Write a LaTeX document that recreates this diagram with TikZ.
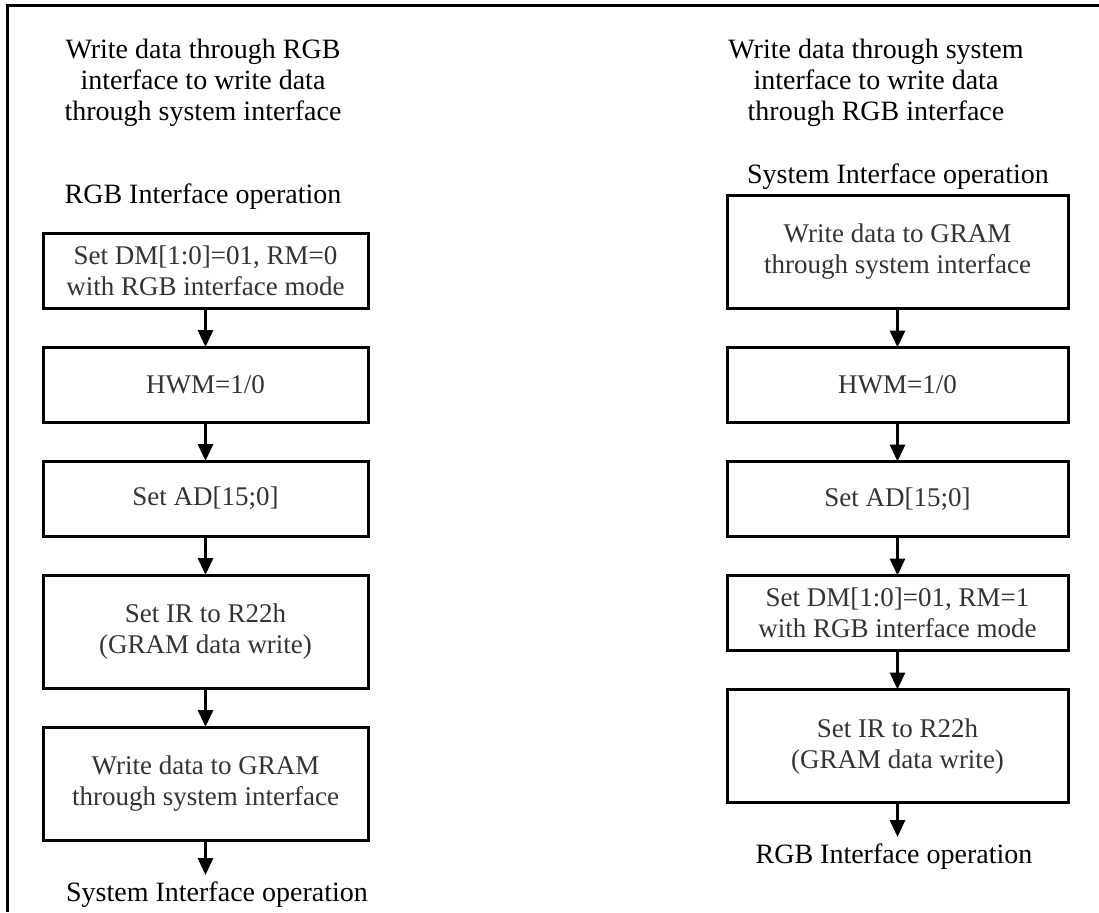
\documentclass[tikz,border=0pt]{standalone}
\usepackage{fontspec}
\setmainfont{Liberation Serif}
\usetikzlibrary{positioning,arrows.meta}
\tikzset{
  boxnode/.style = {draw=black, line width=1.5pt, align=center, inner sep=0pt,
    outer sep=0pt, text=black!80, font=\fontsize{13.5}{15.5}\selectfont},
  box_l/.style = {boxnode, minimum width=162.5pt},% left column
  box_r/.style = {boxnode, minimum width=170.5pt},% right column
  h_s/.style = {minimum height=37.5pt},
  h_t/.style = {minimum height=56.5pt},
  head/.style = {align=center, inner sep=0pt, text=black,
    font=\fontsize{14}{15.5}\selectfont},
}

\begin{document}
\begin{tikzpicture}[x=0.5pt,y=-0.5pt,->,>={Triangle[width=7.5pt,length=8.5pt]},
  line width=1.5pt]
\useasboundingbox (0,0) rectangle (1099,912);
\draw[-] (1099,5) -- (7,5) -- (7,912);

% left column
\node [head] (l_title) at (203,83) {Write data through RGB\\interface to write data\\through system interface};
\node [head] (l_in) at (203,197) {RGB Interface operation};
\node [box_l,h_s] (l_1) at (205.5,270.5) {Set DM[1:0]=01, RM=0\\with RGB interface mode};
\node [box_l,h_s] (l_2) [below=19.5pt of l_1] {HWM=1/0};
\node [box_l,h_s] (l_3) [below=19.5pt of l_2] {Set AD[15;0]};
\node [box_l,h_t] (l_4) [below=19.5pt of l_3] {Set IR to R22h\\(GRAM data write)};
\node [box_l,h_t] (l_5) [below=19.5pt of l_4] {Write data to GRAM\\through system interface};
\coordinate (l_end) at (205.5,875);
\node [head] (l_out) at (217,895) {System Interface operation};

% right column
\node [head] (r_title) at (876,83) {Write data through system\\interface to write data\\through RGB interface};
\node [head] (r_in) at (898,177) {System Interface operation};
\node [box_r,h_t] (r_1) at (897.5,252) {Write data to GRAM\\through system interface};
\node [box_r,h_s] (r_2) [below=19.5pt of r_1] {HWM=1/0};
\node [box_r,h_s] (r_3) [below=19.5pt of r_2] {Set AD[15;0]};
\node [box_r,h_s] (r_4) [below=19.5pt of r_3] {Set DM[1:0]=01, RM=1\\with RGB interface mode};
\node [box_r,h_t] (r_5) [below=19.5pt of r_4] {Set IR to R22h\\(GRAM data write)};
\coordinate (r_end) at (897.5,837);
\node [head] (r_out) at (894,857) {RGB Interface operation};

\foreach \a/\b in {l_1/l_2,l_2/l_3,l_3/l_4,l_4/l_5,l_5/l_end,
                   r_1/r_2,r_2/r_3,r_3/r_4,r_4/r_5,r_5/r_end}
  \draw (\a) -- (\b);
\end{tikzpicture}
\end{document}
